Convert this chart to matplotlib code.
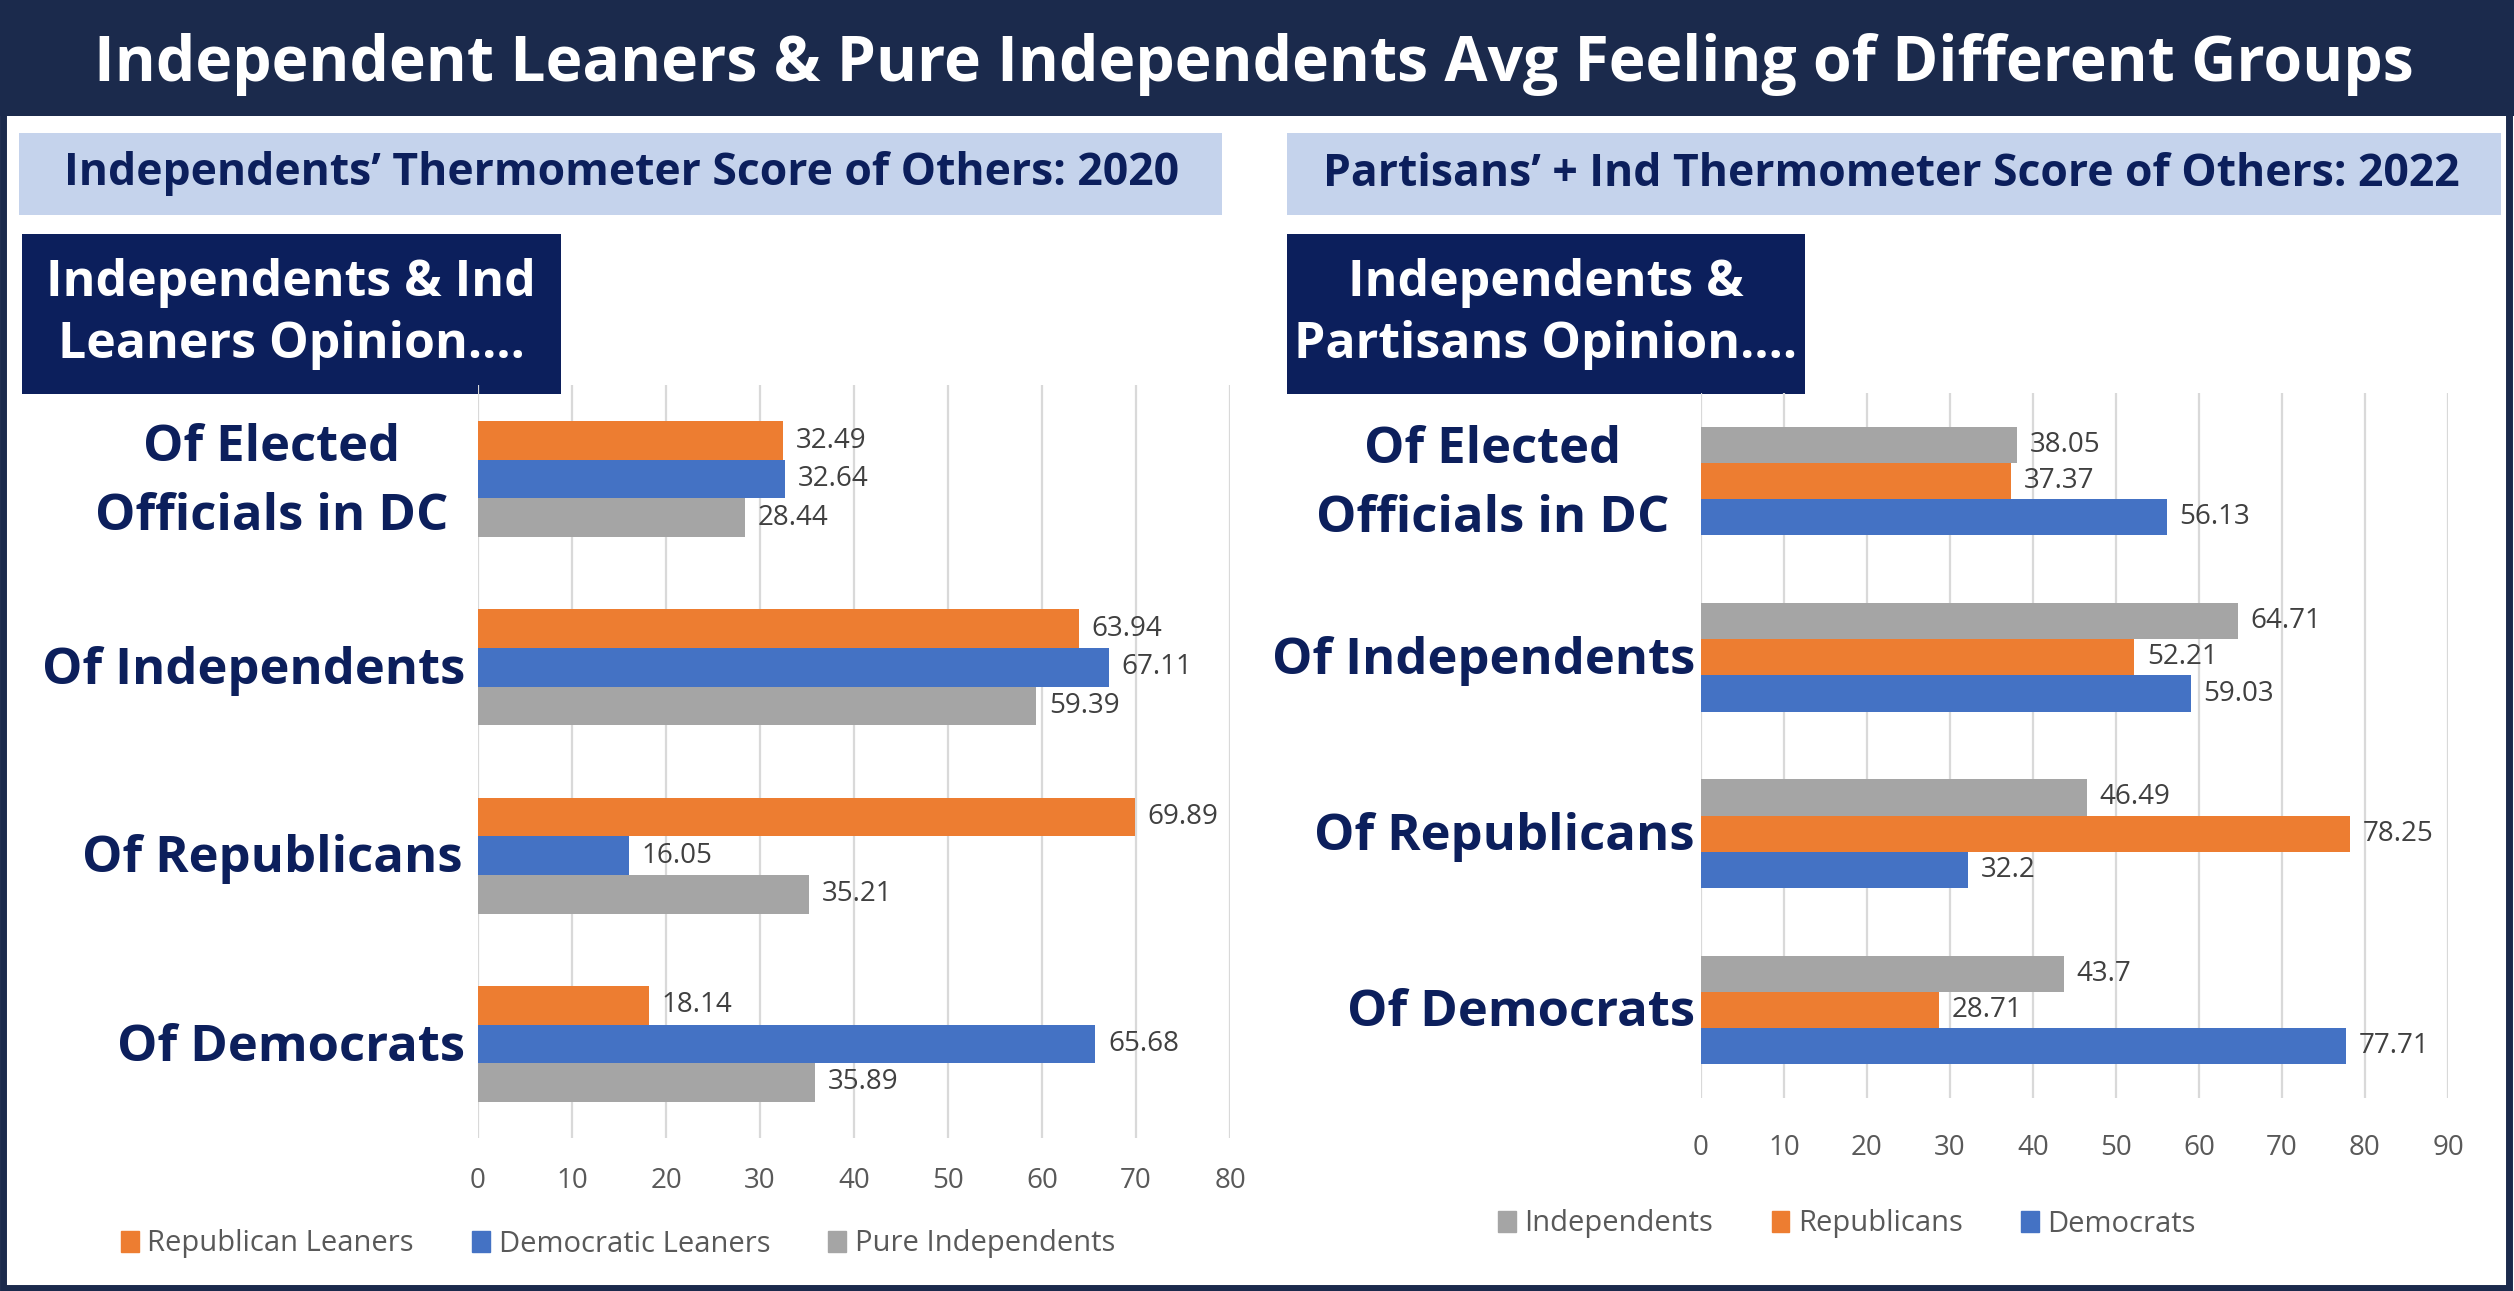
import matplotlib.pyplot as plt
import numpy as np
from matplotlib.patches import Rectangle, Patch
from matplotlib.transforms import blended_transform_factory, ScaledTranslation

plt.rcParams['font.family'] = ['Open Sans', 'DejaVu Sans']

# 2020: independents' thermometer scores
cats_2020 = ["Of Elected\nOfficials in DC", "Of Independents", "Of Republicans", "Of Democrats"]
series_2020 = ["Republican Leaners", "Democratic Leaners", "Pure Independents"]
rep_leaners = [32.49, 63.94, 69.89, 18.14]
dem_leaners = [32.64, 67.11, 16.05, 65.68]
pure_ind = [28.44, 59.39, 35.21, 35.89]

# 2022: partisans' + independents' thermometer scores
cats_2022 = ["Of Elected\nOfficials in DC", "Of Independents", "Of Republicans", "Of Democrats"]
series_2022 = ["Independents", "Republicans", "Democrats"]
independents = [38.05, 64.71, 46.49, 43.7]
republicans = [37.37, 52.21, 78.25, 28.71]
democrats = [56.13, 59.03, 32.2, 77.71]

ticks_2020 = np.arange(0, 81, 10)
ticks_2022 = np.arange(0, 91, 10)

ORANGE = "#ED7D31"
BLUE = "#4472C4"
GREY = "#A5A5A5"
NAVY = "#0c1f5c"
BAR_NAVY = "#1b2a4c"
LIGHT = "#c5d3ec"

W, H = 2514, 1291
fig = plt.figure(figsize=(W / 100, H / 100), dpi=100)


def fbox(x0, y0, x1, y1):
    return [x0 / W, 1 - y1 / H, (x1 - x0) / W, (y1 - y0) / H]


def fpt(x, y):
    return x / W, 1 - y / H


def rect(x0, y0, x1, y1, color, z=-5, **kw):
    l, b, w, h = fbox(x0, y0, x1, y1)
    fig.patches.append(Rectangle((l, b), w, h, transform=fig.transFigure,
                                 facecolor=color, edgecolor="none", zorder=z, **kw))


# title bar and header boxes
rect(0, 0, W, 116, BAR_NAVY)
fig.text(*fpt(1254, 65), "Independent Leaners & Pure Independents Avg Feeling of Different Groups",
         color="white", fontsize=45, fontweight="bold", ha="center", va="center")

rect(19, 133, 1222, 215, LIGHT)
rect(1287, 133, 2501, 215, LIGHT)
fig.text(*fpt(622, 174), "Independents’ Thermometer Score of Others: 2020",
         color=NAVY, fontsize=32, fontweight="bold", ha="center", va="center")
fig.text(*fpt(1891, 174), "Partisans’ + Ind Thermometer Score of Others: 2022",
         color=NAVY, fontsize=32, fontweight="bold", ha="center", va="center")

rect(22, 234, 561, 394, NAVY)
rect(1287, 234, 1805, 394, NAVY)
fig.text(*fpt(291, 314), "Independents & Ind\nLeaners Opinion....", color="white",
         fontsize=36, fontweight="bold", ha="center", va="center", linespacing=1.3)
fig.text(*fpt(1546, 314), "Independents &\nPartisans Opinion....", color="white",
         fontsize=36, fontweight="bold", ha="center", va="center", linespacing=1.3)

# outer frame on top of everything
fig.patches.append(Rectangle((0.001, 0.002), 0.997, 0.997, transform=fig.transFigure,
                             facecolor="none", edgecolor=BAR_NAVY, linewidth=5, zorder=10))


def draw_panel(ax, cats, values, colors, ticks, xmax, label_gaps):
    y = np.arange(len(cats))
    h = 0.205
    offsets = [-h, 0, h]
    for vals, col, off in zip(values, colors, offsets):
        bars = ax.barh(y + off, vals, height=h, color=col, zorder=3)
        for b, v in zip(bars, vals):
            ax.annotate(f"{v:g}", (v, b.get_y() + h / 2), xytext=(9, 0),
                        textcoords="offset points", va="center", ha="left",
                        fontsize=20, color="#404040")
    ax.set_xlim(0, xmax)
    ax.set_ylim(len(cats) - 0.5, -0.5)
    ax.set_xticks(ticks)
    ax.set_yticks([])
    # category names, right aligned against the plot
    trans = blended_transform_factory(ax.transAxes, ax.transData)
    for yi, cat, gap in zip(y, cats, label_gaps):
        shift = ScaledTranslation(-gap / 100, 0, fig.dpi_scale_trans)
        ax.text(0, yi + 0.02, cat, transform=trans + shift, ha="right", va="center",
                multialignment="center", linespacing=1.5, fontsize=36.5,
                fontweight="bold", color=NAVY)
    ax.grid(axis="x", color="#d9d9d9", linewidth=1.6, zorder=0)
    ax.set_axisbelow(True)
    for s in ax.spines.values():
        s.set_visible(False)
    ax.set_facecolor("none")
    ax.tick_params(axis="x", length=0, labelsize=20, labelcolor="#595959")


axL = fig.add_axes(fbox(478, 385, 1230, 1138))
draw_panel(axL, cats_2020, [rep_leaners, dem_leaners, pure_ind],
           [ORANGE, BLUE, GREY], ticks_2020, 80, [30, 13, 16, 13])
axL.tick_params(axis="x", pad=21)

axR = fig.add_axes(fbox(1701, 393, 2448, 1098))
draw_panel(axR, cats_2022, [independents, republicans, democrats],
           [GREY, ORANGE, BLUE], ticks_2022, 90, [32, 6, 6, 6])
axR.tick_params(axis="x", pad=26)

legend_kw = dict(loc="center", ncol=3, frameon=False, fontsize=21,
                 handlelength=0.6, handleheight=0.75, handletextpad=0.3,
                 columnspacing=2.0, labelcolor="#595959")
fig.legend(handles=[Patch(color=c, label=l) for c, l in zip([ORANGE, BLUE, GREY], series_2020)],
           bbox_to_anchor=fpt(618, 1244), **legend_kw)
fig.legend(handles=[Patch(color=c, label=l) for c, l in zip([GREY, ORANGE, BLUE], series_2022)],
           bbox_to_anchor=fpt(1847, 1224), **legend_kw)

fig.savefig("out.png", dpi=100)
